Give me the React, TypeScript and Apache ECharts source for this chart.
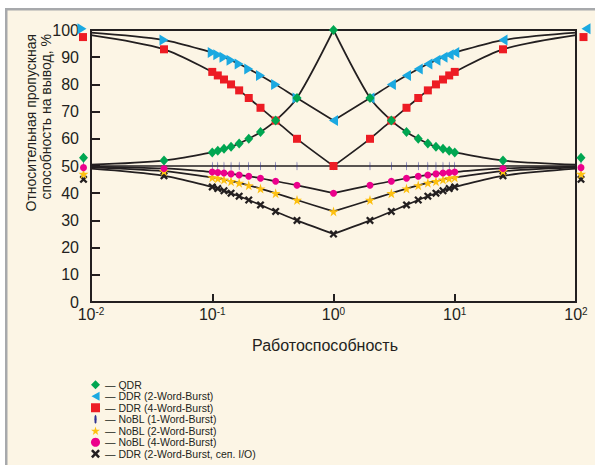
import React, { useEffect, useRef } from 'react';
import * as echarts from 'echarts';

// x positions (work ratio) of the plotted points
const ratios = [0.01, 0.04, 0.1, 0.1111, 0.125, 0.1429, 0.1667, 0.2, 0.25, 0.3333, 0.5, 1, 2, 3, 4, 5, 6, 7, 8, 9, 10, 25, 100];

const seriesNames = [
  'QDR',
  'DDR (2-Word-Burst)',
  'DDR (4-Word-Burst)',
  'NoBL (1-Word-Burst)',
  'NoBL (2-Word-Burst)',
  'NoBL (4-Word-Burst)',
  'DDR (2-Word-Burst, сеп. I/O)',
];

const qdr = [50.5, 52, 55, 55.6, 56.3, 57.1, 58.3, 60, 62.5, 66.7, 75, 100, 75, 66.7, 62.5, 60, 58.3, 57.1, 56.3, 55.6, 55, 52, 50.5];
const ddr2 = [99, 96.3, 91.7, 90.9, 90, 88.9, 87.5, 85.7, 83.3, 80, 75, 66.7, 75, 80, 83.3, 85.7, 87.5, 88.9, 90, 90.9, 91.7, 96.3, 99];
const ddr4 = [98.1, 92.9, 84.6, 83.3, 81.8, 80, 77.8, 75, 71.4, 66.7, 60, 50, 60, 66.7, 71.4, 75, 77.8, 80, 81.8, 83.3, 84.6, 92.9, 98.1];
const nobl1 = [50, 50, 50, 50, 50, 50, 50, 50, 50, 50, 50, 50, 50, 50, 50, 50, 50, 50, 50, 50, 50, 50, 50];
const nobl2 = [49.5, 48.1, 45.8, 45.5, 45, 44.4, 43.8, 42.9, 41.7, 40, 37.5, 33.3, 37.5, 40, 41.7, 42.9, 43.8, 44.4, 45, 45.5, 45.8, 48.1, 49.5];
const nobl4 = [49.8, 49.1, 47.8, 47.6, 47.4, 47.1, 46.7, 46.2, 45.5, 44.4, 42.9, 40, 42.9, 44.4, 45.5, 46.2, 46.7, 47.1, 47.4, 47.6, 47.8, 49.1, 49.8];
const ddrSep = [49, 46.4, 42.3, 41.7, 40.9, 40, 38.9, 37.5, 35.7, 33.3, 30, 25, 30, 33.3, 35.7, 37.5, 38.9, 40, 40.9, 41.7, 42.3, 46.4, 49];

// where the end-point markers are drawn, stacked beside the frame
const edgeMarkerY = [53, 100.5, 97.4, 51.3, 47.1, 49.4, 45.1];

const yTicks = [0, 10, 20, 30, 40, 50, 60, 70, 80, 90, 100];

const FONT = '"Liberation Sans", Arial, Helvetica, sans-serif';
const INK = '#231f20';

const TRI_LEFT = 'path://M0,5 L9,0 L9,10 Z';
const TRI_RIGHT = 'path://M9,5 L0,0 L0,10 Z';
const STAR = 'path://M50,0 L61,35 L98,35 L68,57 L79,91 L50,70 L21,91 L32,57 L2,35 L39,35 Z';
const CROSS = 'path://M0,2 L2,0 L5,3 L8,0 L10,2 L7,5 L10,8 L8,10 L5,7 L2,10 L0,8 L3,5 Z';
const TICK = 'path://M1,0 L1.8,1 L2,4 L1.8,7 L1,8 L0.2,7 L0,4 L0.2,1 Z';

const styles = [
  { values: qdr, symbol: 'diamond', size: [9, 10], color: '#00a651', offL: -7.5, offR: 5, keep: false },
  { values: ddr2, symbol: TRI_LEFT, size: [9, 11], color: '#1ba9e1', offL: -9, offR: 10, keep: false },
  { values: ddr4, symbol: 'rect', size: [8, 8], color: '#ed1c24', offL: -8, offR: 7.5, keep: false },
  { values: nobl1, symbol: TICK, size: [2.4, 9], color: '#2e3192', offL: -7.5, offR: 5, keep: true },
  { values: nobl2, symbol: STAR, size: [10, 10], color: '#fdc010', offL: -7.5, offR: 5, keep: false },
  { values: nobl4, symbol: 'circle', size: [7, 7], color: '#ec008c', offL: -7.5, offR: 5, keep: false },
  { values: ddrSep, symbol: CROSS, size: [8, 8], color: INK, offL: -7.5, offR: 5, keep: false },
];

const last = ratios.length - 1;
const mid = ratios.indexOf(1);

function buildSeries() {
  const lines: any[] = [];
  const marks: any[] = [];
  styles.forEach((s, k) => {
    const pts = ratios.map((r, i) => [r, s.values[i]]);
    [pts.slice(0, mid + 1), pts.slice(mid)].forEach((part, h) => {
      lines.push({
        type: 'line',
        name: `line-${k}-${h}`,
        data: part,
        smooth: 0.3,
        showSymbol: false,
        silent: true,
        z: 2,
        lineStyle: { color: INK, width: 1.7 },
      });
    });
    const data: any[] = [];
    for (let i = 1; i < last; i++) {
      const item: any = { value: [ratios[i], s.values[i]] };
      if (k === 1 && ratios[i] < 1) item.symbol = TRI_RIGHT;
      data.push(item);
    }
    data.push({
      value: [ratios[0], edgeMarkerY[k]],
      symbolOffset: [s.offL, 0],
      symbol: k === 1 ? TRI_RIGHT : s.symbol,
    });
    data.push({ value: [ratios[last], edgeMarkerY[k]], symbolOffset: [s.offR, 0] });
    marks.push({
      type: 'scatter',
      name: seriesNames[k],
      data,
      symbol: s.symbol,
      symbolSize: s.size,
      symbolKeepAspect: s.keep,
      clip: false,
      z: 3,
      itemStyle: { color: s.color, opacity: 1 },
    });
  });
  // draw the thin ticks first so others overlap them
  const order = [3, 6, 4, 5, 2, 1, 0];
  return [...lines, ...order.map((i) => marks[i])];
}

const option: any = {
  animation: false,
  backgroundColor: '#ffffff',
  graphic: [
    { type: 'rect', z: -10, shape: { x: 5, y: 8, width: 590, height: 457 }, style: { fill: '#fcf5e5' } },
    { type: 'rect', z: -9, shape: { x: 5, y: 8, width: 590, height: 2.5 }, style: { fill: '#a7a9ac' } },
    { type: 'rect', z: -9, shape: { x: 5, y: 8, width: 2.5, height: 457 }, style: { fill: '#a7a9ac' } },
    {
      type: 'text',
      x: 31,
      y: 34,
      rotation: Math.PI / 2,
      style: { text: 'Относительная пропускная', font: `14px ${FONT}`, fill: INK, textAlign: 'right', textVerticalAlign: 'middle' },
    },
    {
      type: 'text',
      x: 46,
      y: 34,
      rotation: Math.PI / 2,
      style: { text: 'способность на вывод, %', font: `14px ${FONT}`, fill: INK, textAlign: 'right', textVerticalAlign: 'middle' },
    },
    {
      type: 'text',
      x: 325,
      y: 345,
      style: { text: 'Работоспособность', font: `16px ${FONT}`, fill: INK, textAlign: 'center', textVerticalAlign: 'middle' },
    },
  ],
  grid: {
    left: 91,
    right: 19,
    top: 30,
    bottom: 163,
    show: true,
    borderColor: INK,
    borderWidth: 2,
    backgroundColor: 'transparent',
  },
  xAxis: {
    type: 'log',
    logBase: 10,
    min: 0.01,
    max: 100,
    axisLine: { show: true, lineStyle: { color: INK, width: 2 } },
    axisTick: { show: true, inside: true, length: 8, lineStyle: { color: INK, width: 2 } },
    minorTick: { show: false },
    splitLine: { show: false },
    axisLabel: {
      margin: 4,
      color: INK,
      formatter: (v: number) => `{b|10}{s|${Math.round(Math.log10(v))}}`,
      rich: {
        b: { fontFamily: FONT, fontSize: 16, color: INK },
        s: { fontFamily: FONT, fontSize: 10, color: INK, verticalAlign: 'top' },
      },
    },
  },
  yAxis: {
    type: 'value',
    min: yTicks[0],
    max: yTicks[yTicks.length - 1],
    interval: 10,
    axisLine: { show: true, lineStyle: { color: INK, width: 2 } },
    axisTick: { show: true, inside: true, length: 9, lineStyle: { color: INK, width: 2 } },
    splitLine: { show: false },
    axisLabel: { margin: 12, color: INK, fontFamily: FONT, fontSize: 16 },
  },
  legend: {
    data: seriesNames,
    orient: 'vertical',
    left: 86,
    top: 374,
    height: 90,
    itemWidth: 9,
    itemHeight: 9,
    itemGap: 0,
    selectedMode: false,
    formatter: (n: string) => `— ${n}`,
    textStyle: { fontFamily: FONT, fontSize: 10.5, color: INK, lineHeight: 11.5 },
  },
  series: buildSeries(),
};

export default function App() {
  const ref = useRef<HTMLDivElement>(null);
  useEffect(() => {
    const chart = echarts.init(ref.current as HTMLDivElement, null, { renderer: 'svg' });
    chart.setOption(option);
    return () => chart.dispose();
  }, []);
  return (
    <div style={{ position: 'fixed', left: 0, top: 0, width: 595, height: 465, background: '#fff' }}>
      <div ref={ref} style={{ width: 595, height: 465 }} />
    </div>
  );
}
